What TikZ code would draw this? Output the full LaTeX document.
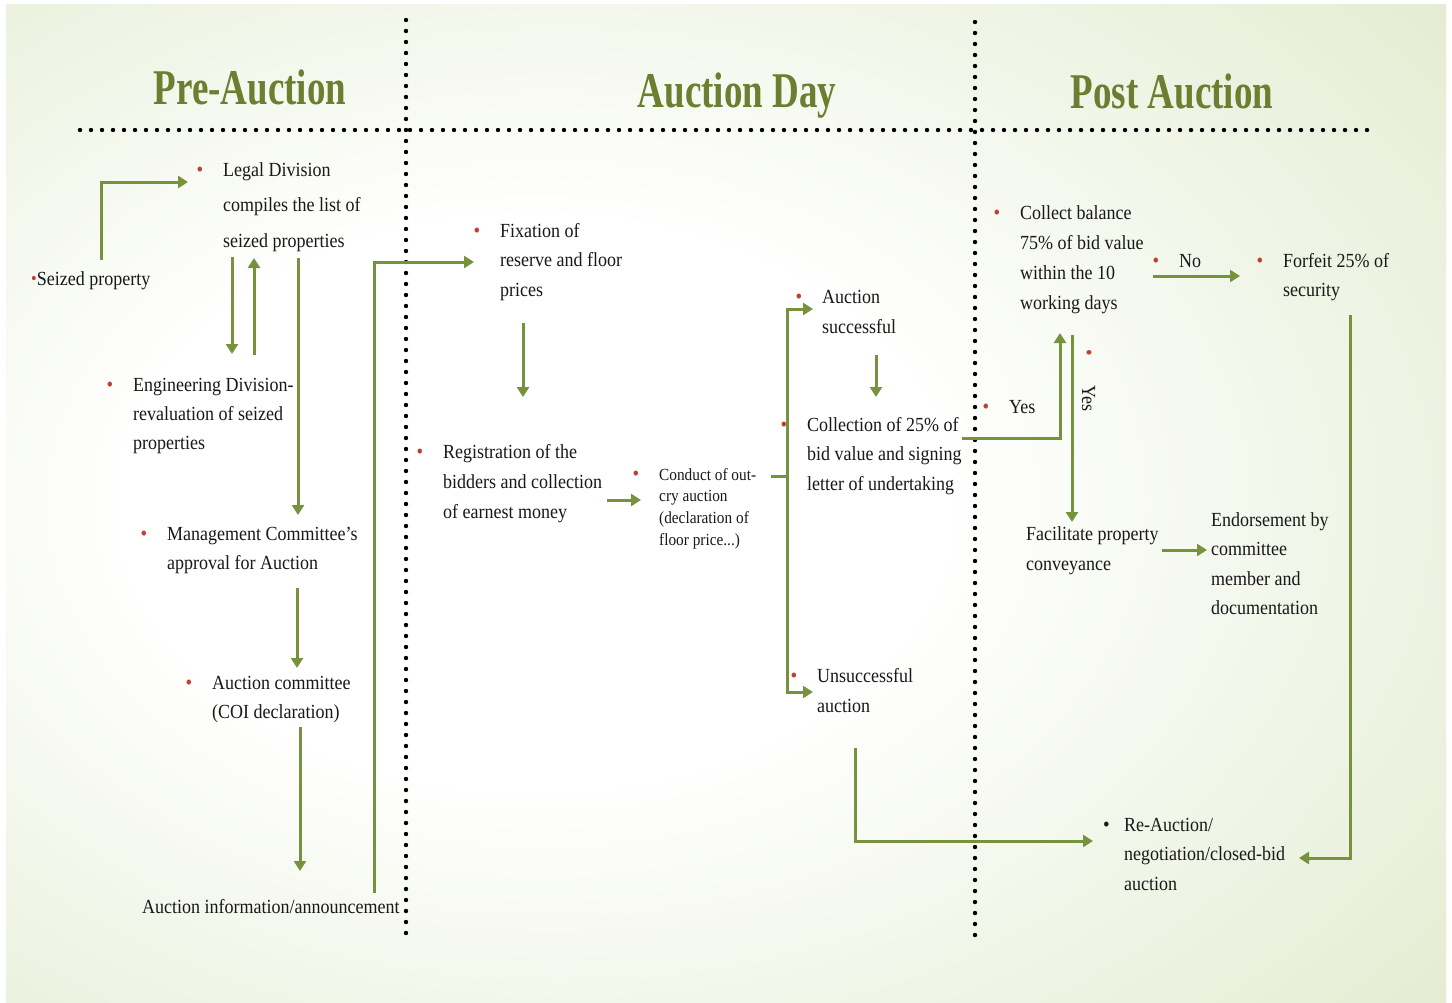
\documentclass[tikz,border=0pt]{standalone}
\usepackage{fontspec}
\setmainfont{Liberation Serif}[FakeStretch=0.9]
\newfontfamily\titlefont{Liberation Serif}[FakeStretch=0.74]
\usepackage{tikz}
\usetikzlibrary{arrows.meta,positioning,calc}

\definecolor{olivearrow}{RGB}{118,146,60}
\definecolor{olivetitle}{RGB}{108,126,48}
\definecolor{bulred}{RGB}{192,64,48}
\definecolor{txtgray}{RGB}{25,25,25}
\definecolor{bgpale}{RGB}{224,234,204}
\definecolor{bgedge}{RGB}{205,221,168}

\pgfdeclareradialshading{slidebg}{\pgfpoint{-8bp}{0bp}}{color(0bp)=(white); color(14bp)=(white); color(42bp)=(bgpale); color(58bp)=(bgedge); color(85bp)=(bgedge)}

\newcommand{\bul}[2][20pt]{\leavevmode\llap{\textcolor{#2}{\fontsize{21}{21}\selectfont\raisebox{0pt}{•}}\hspace{#1}}}

\begin{document}
\begin{tikzpicture}[x=1pt,y=-1pt,
    every node/.style={inner sep=0pt,text=txtgray},
    stage/.style={font=\titlefont\bfseries\fontsize{50}{50}\selectfont,text=olivetitle,anchor=base},
    txtbox/.style={anchor=north west,align=left,font=\fontsize{20}{#1}\selectfont},
    txtbox/.default=30,
    word/.style={anchor=base west,font=\fontsize{20}{30}\selectfont},
    flow/.style={draw=olivearrow,line width=3pt,-{Triangle[length=10pt,width=12pt]}},
    link/.style={draw=olivearrow,line width=3pt},
    dotline/.style={line width=4.4pt,line cap=round,dash pattern=on 0pt off 11pt}]

  \useasboundingbox (0,0) rectangle (1452,1002);
  \fill[white] (0,0) rectangle (1452,1002);
  \shade[shading=slidebg] (6,4) rectangle (1446,1002);

  \draw[dotline] (80,130) -- (1372,130);
  \draw[dotline] (406,20) -- (406,935);
  \draw[dotline] (975,22) -- (975,937);

  \node[stage] (prehead) at (250,104) {Pre-Auction};
  \node[stage] (dayhead) at (737,107) {Auction Day};
  \node[stage] (posthead) at (1172,108) {Post Auction};

  % pre-auction
  \node[word] (seized) at (31,285) {\textcolor{bulred}{\fontsize{18}{18}\selectfont\raisebox{1pt}{•}}Seized property};
  \node[txtbox=35.5] (legal) at (223,162) {\bul{bulred}Legal Division\\compiles the list of\\seized properties};
  \node[txtbox=29] (engdiv) at (133,378) {\bul{bulred}Engineering Division-\\revaluation of seized\\properties};
  \node[txtbox=29] (mgmt) at (167,527) {\bul{bulred}Management Committee’s\\approval for Auction};
  \node[txtbox=29] (coi) at (212,676) {\bul{bulred}Auction committee\\(COI declaration)};
  \node[word] (announce) at (142,913) {Auction information/announcement};

  % auction day
  \node[txtbox=29.5] (fixation) at (500,223) {\bul{bulred}Fixation of\\reserve and floor\\prices};
  \node[txtbox] (registration) at (443,444) {\bul{bulred}Registration of the\\bidders and collection\\of earnest money};
  \node[anchor=north west,align=left,font=\fontsize{17}{21.7}\selectfont] (outcry) at (659,468) {\bul{bulred}Conduct of out-\\cry auction\\(declaration of\\floor price...)};
  \node[txtbox] (success) at (822,290) {\bul{bulred}Auction\\successful};
  \node[txtbox=29.5] (collect25) at (807,417) {\bul{bulred}Collection of 25\% of\\bid value and signing\\letter of undertaking};
  \node[txtbox] (unsuccess) at (817,668) {\bul{bulred}Unsuccessful\\auction};

  % post auction
  \node[txtbox] (balance) at (1020,205) {\bul{bulred}Collect balance\\75\% of bid value\\within the 10\\working days};
  \node[word] (yesleft) at (1009,413) {\bul{bulred}Yes};
  \node[word] (nolabel) at (1179,267) {\bul{bulred}No};
  \node[txtbox=29] (forfeit) at (1283,253) {\bul{bulred}Forfeit 25\% of\\security};
  \node[word,rotate=-90] (yesdown) at (1082,385) {\bul[29pt]{bulred}Yes};
  \node[txtbox] (convey) at (1026,526) {Facilitate property\\conveyance};
  \node[txtbox=29.5] (endorse) at (1211,512) {Endorsement by\\committee\\member and\\documentation};
  \node[txtbox=29.5] (reauction) at (1124,818) {\bul[14.5pt]{txtgray}Re-Auction/\\negotiation/closed-bid\\auction};

  \draw[flow] ([shift={(70,-25)}]seized.base west) |- ([shift={(-35,20)}]legal.north west);
  \draw[flow] ([shift={(9,95)}]legal.north west) -- ([shift={(99,-24)}]engdiv.north west);
  \draw[flow] ([shift={(121,-23)}]engdiv.north west) -- ([shift={(31,96)}]legal.north west);
  \draw[flow] ([shift={(75,96)}]legal.north west) -- ([shift={(131,-12)}]mgmt.north west);
  \draw[flow] ([shift={(130,61)}]mgmt.north west) -- ([shift={(85,-8)}]coi.north west);
  \draw[flow] ([shift={(88,51)}]coi.north west) -- ([shift={(158,-42)}]announce.base west);
  \draw[flow] ([shift={(232,-20)}]announce.base west) |- ([shift={(-26,39)}]fixation.north west);

  \draw[flow] ([shift={(23,100)}]fixation.north west) -- ([shift={(80,-47)}]registration.north west);
  \draw[flow] ([shift={(164,56)}]registration.north west) -- ([shift={(-18,32)}]outcry.north west);
  \draw[link] ([shift={(112,8)}]outcry.north west) -- ++(16,0) coordinate (split);
  \draw[flow] (split) |- ([shift={(-9,19)}]success.north west);
  \draw[flow] (split) |- ([shift={(-4,24)}]unsuccess.north west);
  \draw[flow] ([shift={(54,65)}]success.north west) -- ([shift={(69,-20)}]collect25.north west);
  \draw[flow] ([shift={(155,21)}]collect25.north west) -| ([shift={(40,128)}]balance.north west);
  \draw[flow] ([shift={(38,80)}]unsuccess.north west) |- ([shift={(-31,23)}]reauction.north west);

  \draw[flow] ([shift={(52,130)}]balance.north west) -- ([shift={(46,-4)}]convey.north west);
  \draw[flow] ([shift={(133,71)}]balance.north west) -- ([shift={(-43,23)}]forfeit.north west);
  \draw[flow] ([shift={(136,24)}]convey.north west) -- ([shift={(-4,38)}]endorse.north west);
  \draw[flow] ([shift={(67,62)}]forfeit.north west) |- ([shift={(175,40)}]reauction.north west);
\end{tikzpicture}
\end{document}
